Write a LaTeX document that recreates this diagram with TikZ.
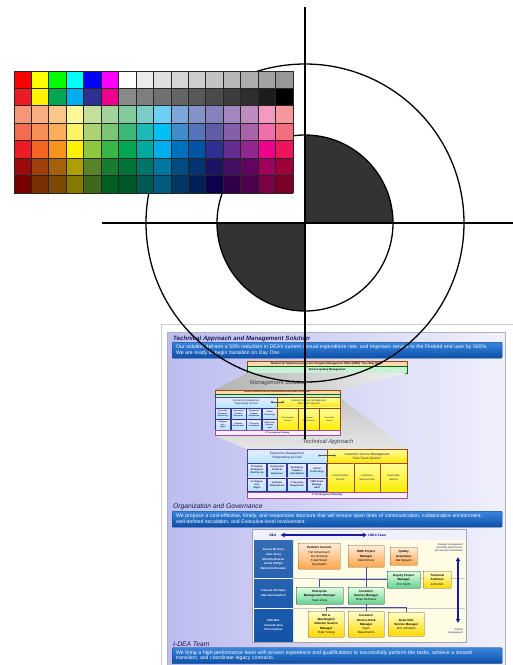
\documentclass[tikz,border=0pt]{standalone}
\usepackage{fontspec}
\setmainfont{Liberation Sans}
\usetikzlibrary{positioning, arrows.meta, calc}

\definecolor{navy}{HTML}{1C1C5C}
\definecolor{bantop}{HTML}{3A86DC}
\definecolor{banbot}{HTML}{0B4EA8}
\definecolor{banedge}{HTML}{0A3C80}
\definecolor{panleft}{HTML}{BCBCF0}
\definecolor{panright}{HTML}{F0F0FC}
\definecolor{quadgray}{HTML}{333333}
\definecolor{orgblue}{HTML}{1252A8}
\definecolor{cream}{HTML}{FFFCE6}

% Block "Technical Approach" in lokalen Koordinaten (160 x 49)
\newcommand{\techblock}[1]{%
  % Hintergrund
  \fill[cellbg] (0,14) rectangle (80,43);
  \fill[yelbg] (80,14) rectangle (160,43);
  % Kopfzeilen
  \node[hdrblue] (#1-em) at (40,7) {Enterprise Management\\``Responding As One''};
  \node[hdryel] (#1-cs) at (120,7) {Customer Service Management\\``One Touch Service''};
  \coordinate (#1-al) at (71,6.5);
  \coordinate (#1-ar) at (89,6.5);
  \draw[blockarrow] (#1-al) -- (#1-ar);
  % Zellen links
  \foreach \txt [count=\i from 0] in {{Proactive\\Enterprise\\Monitoring}, {Automated\\Problem\\Response}, {Enterprise\\Support\\Automation}, {Portal\\Technology}, {Configura-\\tion\\Mgmt}, {Software\\Deployment}, {IT Security\\Compliance}, {CMM Tools\\Manage-\\ment}}{
    \pgfmathsetmacro{\cx}{10+20*mod(\i,4)}
    \pgfmathsetmacro{\cy}{\i<4 ? 21.25 : 35.75}
    \node[cellbox] (#1-c\i) at (\cx,\cy) {\txt};
  }
  % Spalten rechts
  \foreach \txt [count=\j from 0] in {{Fixed-location\\Service}, {Customer\\Service Desk}, {Desk-Side\\Service}}{
    \node[ycellbox] (#1-y\j) at (93.333+26.667*\j,28.5) {\txt};
  }
  \node[lavbar] (#1-itcp) at (80,46) {IT Contingency Planning};
}

\begin{document}
\begin{tikzpicture}[x=1pt, y=-1pt,
    heading/.style={anchor=base west, text=navy, font=\fontsize{6.15}{7}\selectfont\bfseries\itshape, inner sep=0},
    subheading/.style={anchor=base west, text=navy!80!black, font=\fontsize{6.7}{7.5}\selectfont\itshape, inner sep=0},
    banner/.style={anchor=north west, draw=banedge, line width=0.4, rounded corners=1, top color=bantop, bottom color=banbot,
        text=white, align=left, text width=322, minimum width=330, minimum height=16, inner xsep=4, inner ysep=1.5,
        font=\fontsize{5.1}{5.8}\selectfont},
    zoomlbl/.style={text=black!75, font=\fontsize{5.8}{6.5}\selectfont\itshape, inner sep=0},
    obar/.style={anchor=north west, draw=orange!60!black, line width=0.3, fill=orange!30, inner sep=0, font=\fontsize{2.7}{3}\selectfont\bfseries},
    gbar/.style={anchor=north west, draw=green!40!black, line width=0.3, fill=green!50!teal!22, inner sep=0, font=\fontsize{2.7}{3}\selectfont\bfseries},
    cellbg/.style={fill=blue!8!cyan!10},
    yelbg/.style={fill=yellow!55},
    hdrblue/.style={draw=blue!40!black!70, line width=0.3, top color=blue!8!white, bottom color=blue!30!cyan!30, minimum width=80, minimum height=14,
        align=center, inner sep=0, text=navy, font=\fontsize{3.2}{4.2}\selectfont},
    hdryel/.style={draw=orange!60!black, line width=0.3, top color=yellow!35, bottom color=yellow!80!orange, minimum width=80, minimum height=14,
        align=center, inner sep=0, text=navy, font=\fontsize{3.2}{4.2}\selectfont},
    cellbox/.style={draw=blue!50!black!80, line width=0.3, top color=blue!8!white, bottom color=blue!35!cyan!30, minimum width=19, minimum height=13.6,
        align=center, inner sep=0, text=navy, font=\fontsize{2.5}{3.1}\selectfont\bfseries},
    ycellbox/.style={draw=orange!60!black, line width=0.3, top color=yellow!40, bottom color=yellow!85!orange, minimum width=26.667, minimum height=29,
        align=center, inner sep=0, text=navy, font=\fontsize{2.6}{3.3}\selectfont},
    lavbar/.style={draw=violet!70, line width=0.3, fill=violet!6, minimum width=160, minimum height=6, inner sep=0, text=navy,
        font=\fontsize{2.6}{3}\selectfont\bfseries},
    blockarrow/.style={{Latex[length=2.2,width=2.6]}-{Latex[length=2.2,width=2.6]}, line width=1, draw=gray!70!black},
    orgbase/.style={anchor=north west, line width=0.45, rounded corners=0.6, align=center, inner sep=0, text=black,
        font=\fontsize{3}{4.2}\selectfont},
    obox/.style={orgbase, draw=brown!70!black, top color=orange!15, bottom color=orange!70},
    gbox/.style={orgbase, draw=teal!30!black, top color=green!12, bottom color=green!40!teal!60},
    ybox/.style={orgbase, draw=brown!60!black, top color=yellow!20, bottom color=yellow!70!orange},
    namecol/.style={text=white, align=center, inner sep=0, font=\fontsize{2.8}{4.6}\selectfont\bfseries},
    noteit/.style={text=navy, align=right, inner sep=0, font=\fontsize{2.5}{3.2}\selectfont\itshape},
    dealbl/.style={text=blue!50!black, inner sep=0, font=\fontsize{3.2}{4}\selectfont\bfseries},
    bigarrow/.style={{Latex[length=4,width=5]}-{Latex[length=4,width=5]}, line width=2.2, draw=blue!60!black!90},
    orgline/.style={draw=blue!45!black!70, line width=0.5},
    target/.style={draw=black, line width=1.3},
    chartline/.style={draw=black!85, line width=0.8}
  ]

  \clip (0,0) rectangle (513,665);

  % Seite
  \draw[gray!40, fill=white] (161,324) rectangle (530,690);
  \shade[left color=panleft, right color=panright, draw=gray!60] (167,332) rectangle (505,680);

  % Technical Approach and Management Solution
  \node[heading] (tit1) at (173,340) {Technical Approach and Management Solution};
  \node[banner] (ban1) at (172,342) {Our solution delivers a 50\% reduction in DEA's current annual expenditure rate, and improves service to the Firebird end user by 500\%.\\We are ready to begin transition on Day One.};

  \node[obar, minimum width=160, minimum height=5] (pmo) at (247,361) {Materiel (or Maintenance) Service Program Management Office (PMO) ``One Stop Shop''};
  \node[gbar, minimum width=160, minimum height=7] (sqm) at (247,366) {Service Quality Management};

  % Zoom-Flaechen
  \shade[left color=gray!60, right color=gray!12] (247,373) -- (407,373) -- (340,390) -- (215,390) -- cycle;
  \shade[top color=gray!45, bottom color=gray!20] (215,436) -- (340,398) -- (407,449) -- (247,449) -- cycle;
  \node[zoomlbl] (mslbl) at (278,383) {Management Solution};
  \node[zoomlbl] (talbl) at (328,442) {Technical Approach};

  % Management Solution (klein)
  \node[obar, minimum width=125, minimum height=3.5, font=\fontsize{1.6}{2}\selectfont\bfseries] (pmos) at (215,390) {Materiel (or Maintenance) Service Program Management Office (PMO) ``One Stop Shop''};
  \node[gbar, minimum width=125, minimum height=3.5, font=\fontsize{1.6}{2}\selectfont\bfseries] (sqms) at (215,393.5) {Service Quality Management};
  \begin{scope}[shift={(215,397)}, scale=0.78, transform shape]
    \techblock{mid}
  \end{scope}

  % Technical Approach (gross)
  \begin{scope}[shift={(247,449)}]
    \techblock{low}
  \end{scope}

  % Organization and Governance
  \node[subheading] (tit2) at (173,508) {Organization and Governance};
  \node[banner] (ban2) at (172,511) {We propose a cost-effective, timely, and responsive structure that will ensure open lines of communication, collaborative environment,\\well-defined escalation, and Executive-level involvement.};

  % Organigramm
  \fill[cream] (252,529) rectangle (466,642);
  \fill[blue!6] (252,529) rectangle (466,540);
  \shade[top color=orgblue!85, bottom color=orgblue] (254,540) rectangle (293,642);
  \draw[white, line width=0.6] (254,578) -- (293,578) (254,608) -- (293,608);
  \draw[gray!45, line width=0.5] (293,578) -- (465,578) (293,608) -- (465,608);
  \draw[gray!70, line width=0.7] (252,529) rectangle (466,642);

  \node[dealbl] (dea) at (273,535) {DEA};
  \node[dealbl, anchor=west] (idea) at (368,535) {I-DEA Team};
  \draw[bigarrow] ([xshift=4]dea.east) -- ([xshift=-1]idea.west);

  \node[namecol] (grp1) at (273.5,559) {Dennis McCrory\\Julie Jones\\Michelle Bowser\\Venita Phillips\\Mark Schellenstein};
  \node[namecol] (grp2) at (273.5,593) {François Abi-Najm\\Mah-sha Crawford};
  \node[namecol] (grp3) at (273.5,625) {Mike Ritz\\Armando Ruiz\\Chris Gelinas};

  \node[obox, minimum width=42, minimum height=26] (pc) at (298,543) {\textbf{Partners Council}\\Pat Schernbach\\Joe Devaney\\Frank Stuart\\Ivan Kaelin};
  \node[obox, minimum width=36, minimum height=22] (ems) at (348,545) {\textbf{EMS Project}\\\textbf{Manager}\\Mark Emery};
  \node[obox, minimum width=27, minimum height=18] (qa) at (390,547) {\textbf{Quality}\\\textbf{Assurance}\\Dat Nguyen};
  \node[gbox, minimum width=33, minimum height=17] (dpm) at (387,571) {\textbf{Deputy Project}\\\textbf{Manager}\\Eric Smith};
  \node[ybox, minimum width=28, minimum height=17] (ta) at (423,571) {\textbf{Technical}\\\textbf{Architect}\\John Kim};
  \node[gbox, minimum width=47, minimum height=17] (emm) at (296,587) {\textbf{Enterprise}\\\textbf{Management Manager}\\Sean Zikria};
  \node[gbox, minimum width=36, minimum height=17] (csm) at (348,587) {\textbf{Customer}\\\textbf{Service Manager}\\Brian DePasse};
  \node[ybox, minimum width=36, minimum height=26] (his) at (308,611) {\textbf{HIS \&}\\\textbf{Washington}\\\textbf{Division Service}\\\textbf{Manager}\\Holly Tuning};
  \node[ybox, minimum width=36, minimum height=26] (csd) at (348,611) {\textbf{Customer}\\\textbf{Service Desk}\\\textbf{Manager}\\Ryan\\Beauchemin};
  \node[ybox, minimum width=36, minimum height=24] (dss) at (388,612) {\textbf{Desk-Side}\\\textbf{Service Manager}\\Don Johnston};

  \node[noteit, anchor=north east] (strat) at (463,543) {Strategic management\\(including performance,\\QA and user satisfaction)};
  \node[noteit, anchor=south east] (tact) at (463,634) {Tactical\\management};
  \coordinate (tacup) at (458,557);
  \coordinate (tacdn) at (458,623);
  \draw[bigarrow, line width=1.6] (tacup) -- (tacdn);

  % Verbindungen
  \draw[orgline] (ems.south) -- (csm.north);
  \draw[orgline] (emm.north) |- (dpm.west);
  \coordinate (fork) at ($(csm.south)+(0,2.5)$);
  \draw[orgline] (csm.south) -- (csd.north);
  \draw[orgline] (his.north) |- (fork) -| (dss.north);

  % I-DEA Team
  \node[subheading] (tit3) at (173,646) {I-DEA Team};
  \node[banner] (ban3) at (172,647.5) {We bring a high-performance team with proven experience and qualifications to successfully perform the tasks, achieve a smooth\\transition, and coordinate legacy contracts.};

  % Passkreuz
  \coordinate (ctr) at (305,223);
  \begin{scope}
    \clip (ctr) circle[radius=88];
    \fill[quadgray] (305,135) rectangle (393,223);
    \fill[quadgray] (217,223) rectangle (305,311);
  \end{scope}
  \draw[target] (ctr) circle[radius=88];
  \draw[target] (ctr) circle[radius=159];
  \draw[target] (102,223) -- (513,223);
  \draw[target] (305,7) -- (305,439);

  % Farbtafel
  \foreach \rowcols [count=\r from 0] in {
      {FF0000,FFFF00,00FF00,00FFFF,0000FF,FF00FF,FFFFFF,EBEBEB,E0E0E0,D6D6D6,CDCDCD,C2C2C2,B7B7B7,ADADAD,A2A2A2,979797},
      {ED1C24,FFF200,00A651,00AEEF,2E3192,EC008C,8A8A8A,7E7E7E,717171,656565,585858,4B4B4B,3D3D3D,2E2E2E,1C1C1C,000000},
      {F69679,F9AD81,FDC68A,FFF799,C4DF9B,A3D39C,82CA9C,7ACCC8,6DCFF6,7DA7D9,8393CA,8781BD,A187BE,BD8CBF,F49AC1,F5989D},
      {F26C4F,F68E56,FBAF5D,FFF467,ACD373,7CC576,3BB878,1ABBB4,00BFF3,438CCA,5574B9,605CA8,8560A8,A864A8,F06EA9,F26D7D},
      {ED1C24,F26522,F7941D,FFF200,8DC63F,39B54A,00A651,00A99D,00AEEF,0072BC,0054A6,2E3192,662D91,92278F,EC008C,ED145B},
      {9E0B0F,A0410D,A36209,ABA000,598527,197B30,007236,00746B,0076A3,004B80,003471,1B1464,440E62,630460,9E005D,9E0039},
      {790000,7B2E00,7D4900,827B00,406618,005E20,005826,005952,005B7F,003663,002157,0D004C,32004B,4B0049,7B0046,7A0026}}{
    \foreach \hx [count=\c from 0] in \rowcols {
      \definecolor{swatch}{HTML}{\hx}
      \fill[swatch] (14+17.4375*\c,71+17.4286*\r) rectangle ++(17.4375,17.4286);
    }
  }
  \foreach \c in {0,...,16}
    \draw[chartline] (14+17.4375*\c,71) -- ++(0,122);
  \foreach \r in {0,...,7}
    \draw[chartline] (14,71+17.4286*\r) -- ++(279,0);

\end{tikzpicture}
\end{document}
